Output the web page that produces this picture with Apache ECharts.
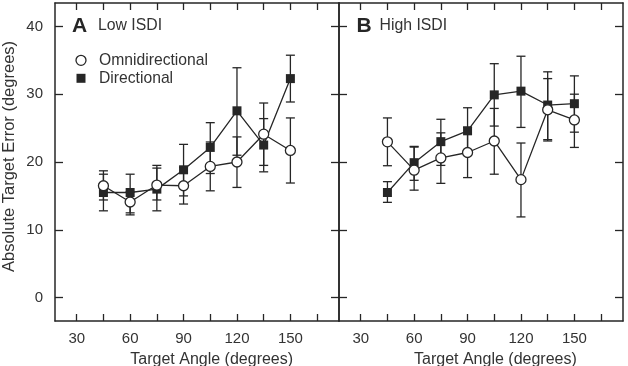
<!DOCTYPE html>
<html>
<head>
<meta charset="utf-8">
<script src="https://cdn.jsdelivr.net/npm/echarts@6/dist/echarts.min.js"></script>
<style>
html,body{margin:0;padding:0;background:#fff;}
#c{width:628px;height:366px;}
</style>
</head>
<body>
<div id="c"></div>
<script>
// ---- data ----
const targetAngles = [45, 60, 75, 90, 105, 120, 135, 150];

// Panel A: Low ISDI
const omniA     = [16.5, 14.1, 16.6, 16.5, 19.35, 20.0, 24.1, 21.7];
const omniALow  = [14.4, 12.5, 14.4, 13.8, 15.75, 16.25, 19.5, 16.9];
const omniAHigh = [18.2, 15.6, 19.1, 19.2, 22.95, 23.7, 28.7, 26.5];
const dirA      = [15.5, 15.5, 16.0, 18.85, 22.15, 27.55, 22.5, 32.3];
const dirALow   = [12.8, 12.2, 12.8, 15.0, 18.3, 21.0, 18.55, 28.85];
const dirAHigh  = [18.7, 18.2, 19.5, 22.6, 25.8, 33.9, 26.4, 35.75];

// Panel B: High ISDI
const omniB     = [22.97, 18.8, 20.6, 21.4, 23.1, 17.4, 27.7, 26.2];
const omniBLow  = [19.45, 15.85, 16.85, 17.7, 18.2, 11.9, 23.1, 22.15];
const omniBHigh = [26.5, 22.2, 24.3, 25.1, 27.9, 22.8, 32.3, 30.0];
const dirB      = [15.5, 19.9, 23.0, 24.6, 29.9, 30.45, 28.4, 28.6];
const dirBLow   = [14.05, 17.3, 19.5, 21.2, 25.3, 25.1, 23.3, 24.4];
const dirBHigh  = [17.1, 22.3, 26.3, 28.0, 34.5, 35.6, 33.3, 32.7];

// axis ticks / labels
const xTickValues  = [30, 45, 60, 75, 90, 105, 120, 135, 150, 165];
const xLabelValues = [30, 60, 90, 120, 150];
const yTickValues  = [0, 10, 20, 30, 40];

const panelTitles = ['Low ISDI', 'High ISDI'];
const panelLetters = ['A', 'B'];
const seriesNames = ['Omnidirectional', 'Directional'];
const xAxisTitle = 'Target Angle (degrees)';
const yAxisTitle = 'Absolute Target Error (degrees)';

// ---- chart ----
const FONT = '"Liberation Sans", Arial, Helvetica, sans-serif';
const INK = '#262626';
const TXT = '#333333';
const XMIN = 17.8, XMAX = 177.3, YMIN = -3.45, YMAX = 43.45;

function zip(xs, ys) { return xs.map((x, i) => [x, ys[i]]); }
function zip3(xs, lo, hi) { return xs.map((x, i) => [x, lo[i], hi[i]]); }

function errRender(params, api) {
  const x = api.value(0), lo = api.value(1), hi = api.value(2);
  const a = api.coord([x, lo]), b = api.coord([x, hi]);
  const hw = 4.5;
  const st = { stroke: INK, lineWidth: 1.3, fill: null };
  return {
    type: 'group',
    children: [
      { type: 'line', shape: { x1: a[0], y1: a[1], x2: b[0], y2: b[1] }, style: st },
      { type: 'line', shape: { x1: a[0] - hw, y1: a[1], x2: a[0] + hw, y2: a[1] }, style: st },
      { type: 'line', shape: { x1: b[0] - hw, y1: b[1], x2: b[0] + hw, y2: b[1] }, style: st }
    ]
  };
}

const grids = [
  { left: 55, top: 3, width: 284, height: 318 },
  { left: 339, top: 3, width: 284, height: 318 }
];

function mkAxisLine() { return { show: true, onZero: false, lineStyle: { color: INK, width: 1.5 } }; }
function mkTick(vals, len) { return { show: true, inside: true, length: len, customValues: vals.slice(), lineStyle: { color: INK, width: 1.3 } }; }

const xAxes = [], yAxes = [];
[0, 1].forEach(g => {
  ['bottom', 'top'].forEach(pos => {
    xAxes.push({
      type: 'value', gridIndex: g, position: pos, min: XMIN, max: XMAX,
      axisLine: mkAxisLine(),
      axisTick: mkTick(xTickValues, 7),
      axisLabel: { show: pos === 'bottom', customValues: xLabelValues.slice(), color: TXT, fontSize: 15, fontFamily: FONT, margin: 10 },
      splitLine: { show: false }
    });
  });
  ['left', 'right'].forEach(pos => {
    yAxes.push({
      type: 'value', gridIndex: g, position: pos, min: YMIN, max: YMAX,
      axisLine: mkAxisLine(),
      axisTick: mkTick(yTickValues, 8),
      axisLabel: { show: (g === 0 && pos === 'left'), customValues: yTickValues.slice(), color: TXT, fontSize: 15, fontFamily: FONT, margin: 12 },
      splitLine: { show: false }
    });
  });
});

const panels = [
  { omni: omniA, oLo: omniALow, oHi: omniAHigh, dir: dirA, dLo: dirALow, dHi: dirAHigh },
  { omni: omniB, oLo: omniBLow, oHi: omniBHigh, dir: dirB, dLo: dirBLow, dHi: dirBHigh }
];

const series = [];
panels.forEach((p, g) => {
  const xi = g * 2, yi = g * 2;
  series.push({
    type: 'custom', xAxisIndex: xi, yAxisIndex: yi, renderItem: errRender,
    data: zip3(targetAngles, p.dLo, p.dHi), encode: { x: 0, y: [1, 2] }, z: 2, silent: true
  });
  series.push({
    type: 'custom', xAxisIndex: xi, yAxisIndex: yi, renderItem: errRender,
    data: zip3(targetAngles, p.oLo, p.oHi), encode: { x: 0, y: [1, 2] }, z: 2, silent: true
  });
  series.push({
    name: seriesNames[1], type: 'line', xAxisIndex: xi, yAxisIndex: yi,
    data: zip(targetAngles, p.dir), symbol: 'rect', symbolSize: 9,
    lineStyle: { color: INK, width: 1.3 },
    itemStyle: { color: INK, borderColor: INK, borderWidth: 0 }, z: 3
  });
  series.push({
    name: seriesNames[0], type: 'line', xAxisIndex: xi, yAxisIndex: yi,
    data: zip(targetAngles, p.omni), symbol: 'circle', symbolSize: 10,
    lineStyle: { color: INK, width: 1.3 },
    itemStyle: { color: '#ffffff', borderColor: INK, borderWidth: 1.3 }, z: 4
  });
});

const graphic = [];
const letterX = [72, 356.5], titleX = [98, 379.5];
[0, 1].forEach(g => {
  graphic.push({ type: 'text', x: letterX[g], y: 26.5, style: { text: panelLetters[g], font: 'bold 21px ' + FONT, fill: INK, align: 'left', verticalAlign: 'middle' } });
  graphic.push({ type: 'text', x: titleX[g], y: 25.8, style: { text: panelTitles[g], font: '15.8px ' + FONT, fill: TXT, align: 'left', verticalAlign: 'middle' } });
  graphic.push({ type: 'text', x: [211.7, 495.4][g], y: 359.5, style: { text: xAxisTitle, font: '16px ' + FONT, fill: TXT, align: 'center', verticalAlign: 'middle' } });
});
// legend
graphic.push({ type: 'circle', shape: { cx: 81, cy: 60.3, r: 5 }, style: { fill: '#fff', stroke: INK, lineWidth: 1.3 } });
graphic.push({ type: 'rect', shape: { x: 76.5, y: 73.8, width: 9, height: 9 }, style: { fill: INK } });
graphic.push({ type: 'text', x: 99, y: 60.8, style: { text: seriesNames[0], font: '15.7px ' + FONT, fill: TXT, align: 'left', verticalAlign: 'middle' } });
graphic.push({ type: 'text', x: 99, y: 78.6, style: { text: seriesNames[1], font: '15.7px ' + FONT, fill: TXT, align: 'left', verticalAlign: 'middle' } });
// y axis title
graphic.push({ type: 'text', x: 9.5, y: 156.5, rotation: Math.PI / 2, style: { text: yAxisTitle, font: '16.5px ' + FONT, fill: TXT, align: 'center', verticalAlign: 'middle' } });

const chart = echarts.init(document.getElementById('c'), null, { renderer: 'canvas' });
chart.setOption({
  animation: false,
  backgroundColor: '#ffffff',
  textStyle: { fontFamily: FONT },
  grid: grids,
  xAxis: xAxes,
  yAxis: yAxes,
  series: series,
  graphic: graphic
});
</script>
</body>
</html>
